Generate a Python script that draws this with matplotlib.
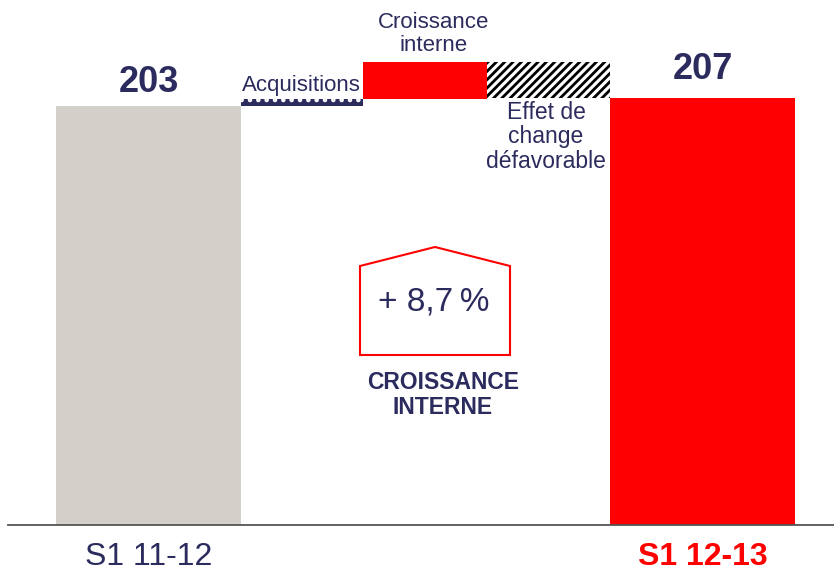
import matplotlib
matplotlib.use("Agg")
import matplotlib.pyplot as plt
from matplotlib.patches import Polygon

plt.rcParams['font.family'] = ['Liberation Sans', 'DejaVu Sans']
plt.rcParams['hatch.linewidth'] = 2.0

# ---- data ----
categories = ["S1 11-12", "Acquisitions", "Croissance\ninterne", "Effet de\nchange\ndéfavorable", "S1 12-13"]
start_value = 203
end_value = 207
acquisitions = 3.6
croissance_interne = 17.7
effet_change = -17.3
growth_label = "+ 8,7\u2009%"
growth_caption = "CROISSANCE\nINTERNE"

NAVY = "#2B2B5E"
RED = "#FF0000"
GREY = "#D3D0CA"

W, H = 834, 573
fig = plt.figure(figsize=(W / 100, H / 100), dpi=100)
ax = fig.add_axes([0, 0, 1, 1])
ppu = 2.064  # pixels per unit
base_px = 525
ax.set_xlim(0, W)
ax.set_ylim(-(H - base_px) / ppu, base_px / ppu)
ax.axis('off')

def fy(px):
    # pixel y (from top) -> data
    return (base_px - px) / ppu

# bars: (left, width)
lefts = [56, 241, 363, 487, 610]
widths = [185, 122, 124, 123, 185]

ax.bar(lefts[0], start_value, width=widths[0], align='edge', color=GREY, zorder=2)
ax.bar(lefts[1], acquisitions, bottom=start_value, width=widths[1], align='edge',
       facecolor=NAVY, edgecolor='white', hatch='..', linewidth=0, zorder=2)
lvl = start_value + acquisitions
ax.bar(lefts[2], croissance_interne, bottom=lvl, width=widths[2], align='edge', color=RED, zorder=2)
lvl2 = lvl + croissance_interne
ax.bar(lefts[3], effet_change, bottom=lvl2, width=widths[3], align='edge',
       facecolor='white', edgecolor='black', hatch='////', linewidth=0, zorder=2)
ax.bar(lefts[4], end_value, width=widths[4], align='edge', color=RED, zorder=2)

# baseline
ax.plot([8, W], [0, 0], color='#555555', lw=1.3, zorder=3)

# value labels
ax.text(lefts[0] + widths[0] / 2, fy(92), f"{start_value}", ha='center', va='baseline',
        fontsize=26, fontweight='bold', color=NAVY)
ax.text(lefts[4] + widths[4] / 2, fy(79), f"{end_value}", ha='center', va='baseline',
        fontsize=26, fontweight='bold', color=NAVY)

# step labels
ax.text(361, fy(91), categories[1], ha='right', va='baseline', fontsize=16, color=NAVY)
ax.text(434, fy(34), categories[2], ha='center', va='center',
        fontsize=16, color=NAVY, linespacing=1.08)
ax.text(546, fy(137), categories[3], ha='center', va='center',
        fontsize=16.5, color=NAVY, linespacing=1.08)

# x labels
ax.text(lefts[0] + widths[0] / 2, fy(557), categories[0], ha='center', va='center',
        fontsize=23, color=NAVY)
ax.text(lefts[4] + widths[4] / 2, fy(557), categories[4], ha='center', va='center',
        fontsize=23, color=RED, fontweight='bold')

# house shape
house = Polygon([(360, fy(266)), (435, fy(247)), (510, fy(266)), (510, fy(355)), (360, fy(355))],
                closed=True, fill=False, edgecolor=RED, lw=1.5, zorder=4)
ax.add_patch(house)
ax.text(434, fy(302), growth_label, ha='center', va='center', fontsize=24, color=NAVY)
ax.text(443, fy(395), growth_caption, ha='center', va='center', fontsize=16.5,
        fontweight='bold', color=NAVY, linespacing=1.15)

fig.savefig("out.png", dpi=100)
